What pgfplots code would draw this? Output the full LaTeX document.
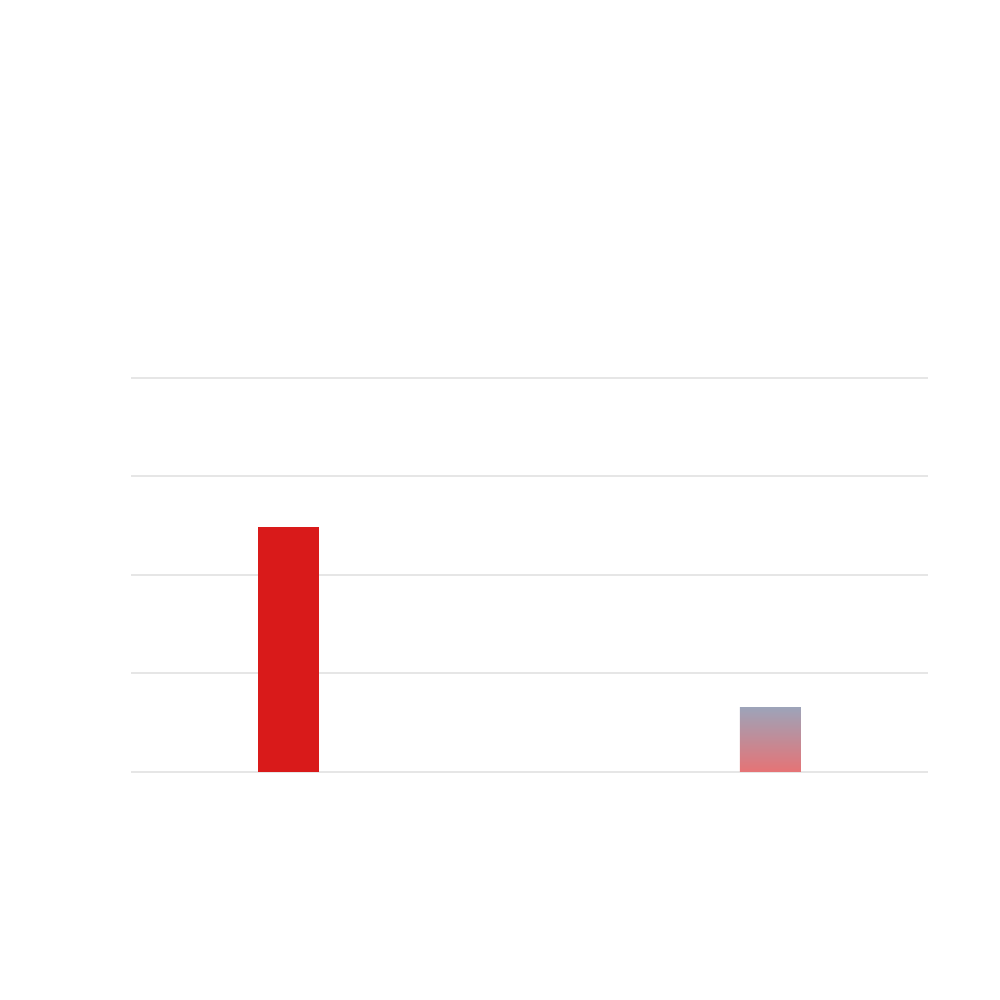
\documentclass[border=0pt]{standalone}
\usepackage{pgfplots}
\pgfplotsset{compat=1.18}
\definecolor{barred}{HTML}{D91A1A}
\definecolor{gradtop}{HTML}{9EA3B8}
\definecolor{gradbot}{HTML}{E67375}
\definecolor{gridgray}{HTML}{E6E6E6}
\begin{document}
\begin{tikzpicture}
% page is 100mm square, 1 px of the reference = 0.1 mm
\useasboundingbox (-13.1mm,-22.8mm) rectangle (86.9mm,77.2mm);
\begin{axis}[
    at={(0,0)}, anchor=south west,
    scale only axis,
    width=79.7mm, height=39.4mm,
    xmin=-0.327, xmax=1.327,
    ymin=0, ymax=4,
    ytick={0,1,2,3,4},
    yticklabels={},
    xtick=\empty,
    ymajorgrids,
    grid style={draw=gridgray, line width=0.2mm},
    axis line style={draw=none},
    major tick style={draw=none},
    ybar, bar width=6.1mm, bar shift=0pt,
    clip=false,
]
\addplot[draw=none, fill=barred] coordinates {(0,2.49)};
\addplot[draw=none, top color=gradtop, bottom color=gradbot] coordinates {(1,0.65)};
\end{axis}
\end{tikzpicture}
\end{document}
